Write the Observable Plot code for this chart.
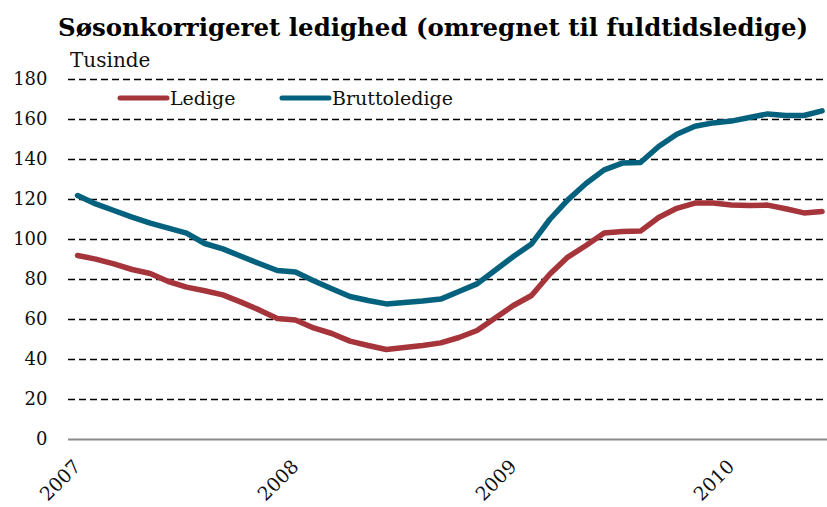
<!DOCTYPE html>
<html>
<head>
<meta charset="utf-8">
<script src="https://cdn.jsdelivr.net/npm/d3@7"></script>
<script src="https://cdn.jsdelivr.net/npm/@observablehq/plot@0.6"></script>
<style>
  html, body { margin: 0; padding: 0; background: #fff; }
  #chart svg { display: block; overflow: visible; }
</style>
</head>
<body>
<div id="chart"></div>
<script>
// Monthly data, Jan 2007 – Jun 2010 (index 0 = Jan 2007)
const ledige = [92, 90.2, 87.8, 85, 83, 79, 76.2, 74.4, 72.3, 68.7, 64.8, 60.5,
  59.8, 55.8, 53, 49.2, 47, 45, 46, 47, 48.3, 51, 54.5, 60.8,
  67, 72, 82.6, 91.2, 97, 103.2, 104, 104.2, 111, 115.6, 118.2, 118.2,
  117.3, 117, 117.2, 115.4, 113.3, 114];
const bruttoledige = [122, 117.8, 114.5, 111.2, 108.2, 105.7, 103.2, 98, 95.3, 91.6, 88, 84.5,
  83.7, 79.4, 75.4, 71.5, 69.5, 67.8, 68.5, 69.2, 70.2, 74, 77.8, 84.6,
  91.5, 97.8, 110, 119.8, 128, 134.8, 138.2, 138.5, 146.5, 152.6, 156.6, 158.3,
  159.2, 161, 162.8, 162, 162, 164.3];
const yearLabels = ["2007", "2008", "2009", "2010"];
const yearIndex = [0, 12, 24, 36];
const yTicks = [0, 20, 40, 60, 80, 100, 120, 140, 160, 180];
const seriesNames = ["Ledige", "Bruttoledige"];
const seriesColors = ["#a5353b", "#05627e"];

const rows = [];
ledige.forEach((v, i) => rows.push({i, v, s: seriesNames[0]}));
bruttoledige.forEach((v, i) => rows.push({i, v, s: seriesNames[1]}));

const serif = "DejaVu Serif, Georgia, serif";

const chart = Plot.plot({
  width: 827,
  height: 507,
  marginLeft: 68,
  marginRight: 0,
  marginTop: 79,
  marginBottom: 68,
  x: {domain: [-0.5, 41.3]},
  y: {domain: [0, 180]},
  color: {domain: seriesNames, range: seriesColors},
  marks: [
    Plot.ruleY(yTicks.filter(d => d > 0), {stroke: "#000", strokeWidth: 1.5, strokeDasharray: "7,4"}),
    Plot.ruleY([0], {stroke: "#8a8a8a", strokeWidth: 2}),
    Plot.axisY({ticks: yTicks, tickSize: 0, tickPadding: 21, label: null, fontSize: 18, fontFamily: serif, fill: "#111"}),
    Plot.axisX({ticks: yearIndex, tickFormat: i => yearLabels[yearIndex.indexOf(i)], tickSize: 0, tickPadding: 24, tickRotate: -45, label: null, fontSize: 19, fontFamily: serif, fill: "#111"}),
    Plot.line(rows, {x: "i", y: "v", z: "s", stroke: "s", strokeWidth: 5.5, strokeLinejoin: "round", strokeLinecap: "round"})
  ]
});

document.getElementById("chart").appendChild(chart);

const svg = d3.select(chart);
svg.append("text")
  .attr("x", 58).attr("y", 36)
  .attr("text-anchor", "start")
  .attr("font-family", serif).attr("font-weight", "bold").attr("font-size", 24)
  .attr("textLength", 750).attr("lengthAdjust", "spacingAndGlyphs")
  .attr("fill", "#000")
  .text("Søsonkorrigeret ledighed (omregnet til fuldtidsledige)");
svg.append("text")
  .attr("x", 70).attr("y", 67)
  .attr("text-anchor", "start")
  .attr("font-family", serif).attr("font-size", 20).attr("fill", "#111")
  .text("Tusinde");

// Legend
const legendX = [120, 282];
seriesNames.forEach((name, k) => {
  const g = svg.append("g");
  g.append("line")
    .attr("x1", legendX[k]).attr("x2", legendX[k] + 47)
    .attr("y1", 98).attr("y2", 98)
    .attr("stroke", seriesColors[k]).attr("stroke-width", 5).attr("stroke-linecap", "round");
  g.append("text")
    .attr("x", legendX[k] + 50).attr("y", 105)
    .attr("text-anchor", "start")
    .attr("font-family", serif).attr("font-size", 19).attr("fill", "#111")
    .text(name);
});
</script>
</body>
</html>
